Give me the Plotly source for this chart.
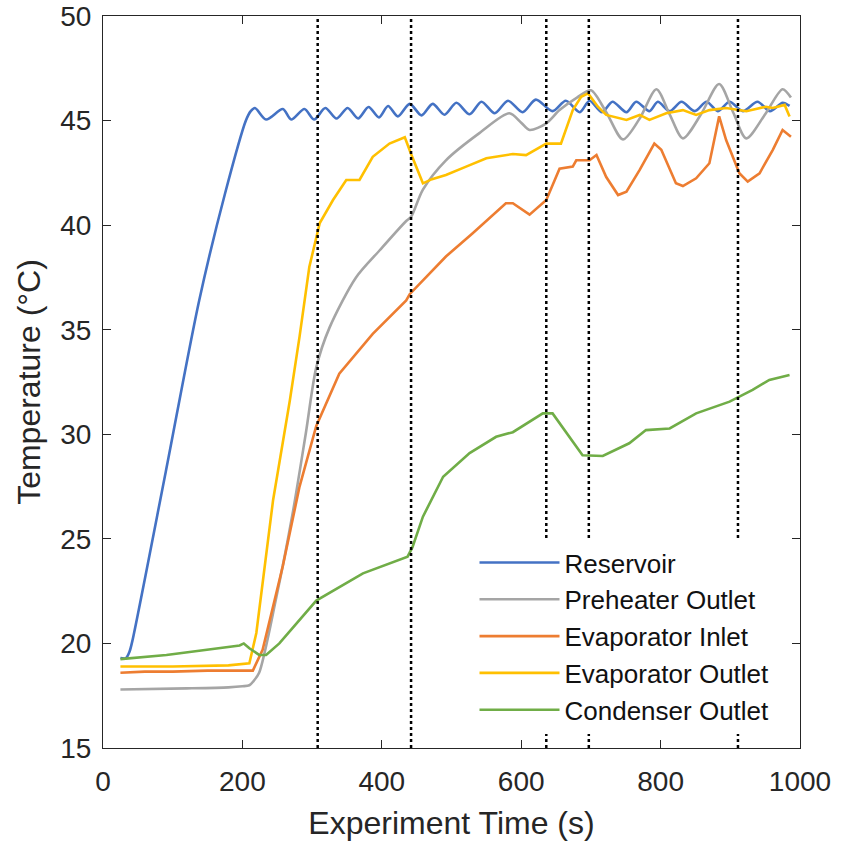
import plotly.graph_objects as go

# ---------------- data ----------------
res_t = [25, 33, 38, 42, 90, 138, 175, 205, 212, 218,
         234, 258, 270, 289, 303, 319, 335, 351, 366, 381, 396, 409, 423,
         440, 457, 473, 490, 507, 526, 543, 562, 581, 602, 621, 645, 664,
         684, 698, 716, 731, 751, 765, 784, 796, 813, 830, 849, 866, 882,
         899, 918, 939, 957, 975, 985]
res_T = [19.3, 19.3, 19.6, 20.1, 28.2, 36.4, 41.5, 45.0, 45.45, 45.6,
         45.05, 45.55, 45.05, 45.55, 45.05, 45.6, 45.1, 45.6, 45.1, 45.65, 45.15, 45.7, 45.2,
         45.8, 45.25, 45.8, 45.28, 45.85, 45.3, 45.9, 45.35, 45.95, 45.4, 46.0, 45.45, 45.95,
         45.4, 45.95, 45.4, 45.9, 45.4, 45.9, 45.45, 45.9, 45.45, 45.9, 45.45, 45.9, 45.45,
         45.9, 45.45, 45.9, 45.45, 45.85, 45.7]

pre_t = [25, 120, 180, 200, 210, 216, 224, 248, 272, 291, 306, 325, 363, 397, 435, 442, 459,
         492, 540, 583, 600, 612, 636, 655, 680, 700, 722, 746, 770, 794, 813,
         832, 858, 884, 904, 923, 950, 975, 987]
pre_T = [17.8, 17.85, 17.9, 17.95, 18.0, 18.2, 18.6, 22.1, 26.2, 30.05, 33.2, 35.1, 37.5, 38.8, 40.2, 40.4, 41.7,
         43.1, 44.4, 45.35, 44.9, 44.55, 44.87, 45.5, 46.1, 46.45, 45.4, 44.1, 45.1, 46.5, 45.3,
         44.15, 45.3, 46.75, 45.4, 44.15, 45.3, 46.5, 46.1]

ein_t = [25, 60, 100, 150, 200, 215, 229, 258, 282, 306, 339, 387, 435, 440, 492,
         530, 578, 588, 612, 631, 636, 655, 674, 679, 693, 698, 708, 722, 739, 751,
         770, 791, 801, 822, 832, 851, 870, 884, 894, 913, 925, 942, 961, 975, 987]
ein_T = [18.6, 18.65, 18.65, 18.7, 18.7, 18.7, 19.7, 23.7, 27.5, 30.4, 32.9, 34.8, 36.4, 36.7, 38.5,
         39.6, 41.05, 41.05, 40.5, 41.05, 41.2, 42.7, 42.8, 43.1, 43.1, 43.1, 43.35, 42.3, 41.44, 41.6,
         42.64, 43.9, 43.6, 42.0, 41.87, 42.24, 42.96, 45.2, 44.07, 42.48, 42.08, 42.48, 43.6, 44.55, 44.23]

eout_t = [25, 100, 180, 210, 220, 244, 268, 282, 296, 311, 330, 349, 368, 387, 411,
          433, 442, 459, 472, 492, 521, 550, 588, 607, 636, 657, 674, 686, 696, 710,
          722, 751, 770, 784, 808, 832, 851, 870, 894, 923, 951, 961, 978, 985]
eout_T = [18.9, 18.9, 18.95, 19.05, 20.5, 26.85, 31.6, 34.67, 38.0, 40.1, 41.2, 42.16, 42.16, 43.27, 43.9,
          44.2, 43.4, 42.0, 42.2, 42.4, 42.8, 43.2, 43.4, 43.35, 43.9, 43.9, 45.5, 46.14, 46.3, 45.66,
          45.27, 45.03, 45.27, 45.03, 45.35, 45.5, 45.27, 45.5, 45.6, 45.45, 45.66, 45.6, 45.75, 45.2]

con_t = [25, 91, 138, 196, 202, 210, 224, 234, 253, 282, 306, 373, 437, 444,
         459, 488, 526, 564, 588, 631, 645, 688, 717, 755, 779, 813, 851, 899,
         932, 956, 985]
con_T = [19.25, 19.45, 19.65, 19.9, 20.0, 19.77, 19.45, 19.45, 20.0, 21.1, 22.05, 23.35, 24.15, 24.6,
         26.06, 27.97, 29.1, 29.88, 30.1, 31.0, 31.0, 29.0, 28.96, 29.57, 30.2, 30.28, 31.0, 31.56,
         32.12, 32.6, 32.84]

event_times = [308, 442, 636, 697, 911]

x_ticks = [0, 200, 400, 600, 800, 1000]
y_ticks = [15, 20, 25, 30, 35, 40, 45, 50]

series = [
    ("Reservoir", res_t, res_T, "#4472C4", "spline"),
    ("Preheater Outlet", pre_t, pre_T, "#A5A5A5", "spline"),
    ("Evaporator Inlet", ein_t, ein_T, "#ED7D31", "linear"),
    ("Evaporator Outlet", eout_t, eout_T, "#FFC000", "linear"),
    ("Condenser Outlet", con_t, con_T, "#70AD47", "linear"),
]

fig = go.Figure()
for name, t, T, col, shape in series:
    fig.add_trace(go.Scatter(x=t, y=T, mode="lines", name=name, legendgroup=name,
                             line=dict(color=col, width=2.6, shape=shape, smoothing=0.8)))

for et in event_times:
    fig.add_shape(type="line", xref="x", yref="paper", x0=et, x1=et, y0=0, y1=1,
                  line=dict(color="black", width=2.5, dash="dot"))

axis_common = dict(showline=True, linecolor="#262626", linewidth=1, mirror="ticks",
                   ticks="inside", ticklen=8, tickcolor="#262626", showgrid=False,
                   zeroline=False, automargin=False,
                   tickfont=dict(size=28, color="#262626"))

fig.update_layout(
    width=846, height=841,
    margin=dict(l=103, r=46, t=16, b=93),
    paper_bgcolor="white", plot_bgcolor="white",
    font=dict(family="Arial, Liberation Sans, sans-serif", size=28, color="#262626"),
    xaxis=dict(range=[0, 1000], tickvals=x_ticks, ticklabelstandoff=8,
               title=dict(text="Experiment Time (s)", font=dict(size=32), standoff=16),
               **axis_common),
    yaxis=dict(range=[15, 50], tickvals=y_ticks, ticklabelstandoff=5,
               title=dict(text="Temperature (°C)", font=dict(size=32), standoff=10),
               **axis_common),
    legend=dict(x=0.533, y=0.019, xanchor="left", yanchor="bottom", bgcolor="white",
                borderwidth=0, itemwidth=80, font=dict(size=26, color="#111111"),
                tracegroupgap=0),
    showlegend=True,
)

fig.write_html("out.html")
